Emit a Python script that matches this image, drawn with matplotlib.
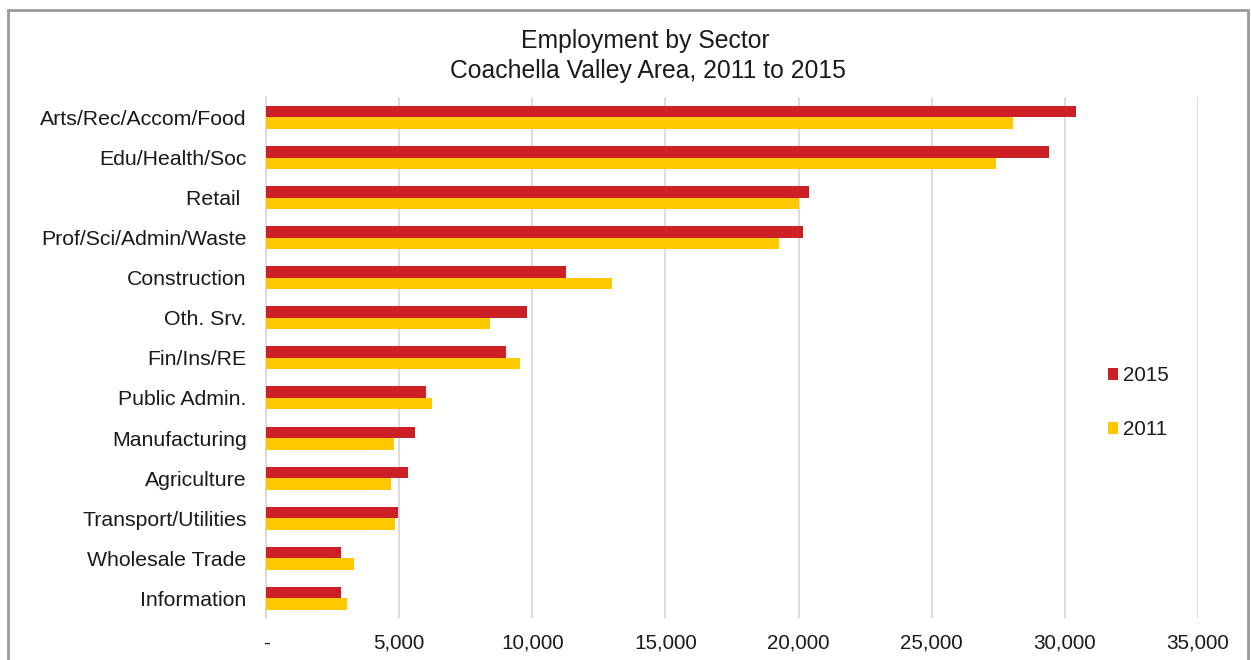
import matplotlib
matplotlib.use("Agg")
import matplotlib.pyplot as plt
import numpy as np
from matplotlib.patches import Rectangle
from matplotlib.ticker import FuncFormatter

plt.rcParams['font.family'] = ['Liberation Sans', 'DejaVu Sans']

sectors = ["Arts/Rec/Accom/Food", "Edu/Health/Soc", "Retail ", "Prof/Sci/Admin/Waste",
           "Construction", "Oth. Srv.", "Fin/Ins/RE", "Public Admin.", "Manufacturing",
           "Agriculture", "Transport/Utilities", "Wholesale Trade", "Information"]
emp_2015 = [30400, 29400, 20400, 20150, 11250, 9800, 9000, 6000, 5600, 5350, 4950, 2800, 2800]
emp_2011 = [28050, 27400, 20000, 19250, 13000, 8400, 9550, 6250, 4800, 4700, 4850, 3300, 3050]
x_ticks = [0, 5000, 10000, 15000, 20000, 25000, 30000, 35000]

RED = "#CC1F26"
YELLOW = "#FFC800"

W, H = 1251, 660
fig = plt.figure(figsize=(W / 100, H / 100), dpi=100)
fig.patch.set_facecolor("white")

# axes placed in pixel terms
left, right, top, bottom = 266, 1198, 97, 618
ax = fig.add_axes([left / W, 1 - bottom / H, (right - left) / W, (bottom - top) / H])

n = len(sectors)
y = np.arange(n)[::-1]
h = 0.287
ax.barh(y + h / 2, emp_2015, height=h, color=RED, label="2015", zorder=3)
ax.barh(y - h / 2, emp_2011, height=h, color=YELLOW, label="2011", zorder=3)

ax.set_xlim(0, 35000)
ax.set_ylim(-0.49, n - 0.49)
ax.set_yticks(y)
ax.set_yticklabels(sectors, fontsize=15.3, color="#1a1a1a")
ax.set_xticks(x_ticks)
ax.xaxis.set_major_formatter(FuncFormatter(lambda v, p: "-" if v == 0 else f"{int(v):,}"))
ax.tick_params(axis="x", length=0, pad=11, labelsize=14.9, labelcolor="#1a1a1a")
ax.tick_params(axis="y", length=0, pad=14)
ax.grid(axis="x", color="#d9d9d9", linewidth=1.3, zorder=0)
for s in ["top", "right", "bottom"]:
    ax.spines[s].set_visible(False)
ax.spines["left"].set_color("#d9d9d9")
ax.spines["left"].set_linewidth(1.3)

leg = fig.legend(loc="upper left", bbox_to_anchor=(1089 / W, 1 - 348 / H), frameon=False,
                 fontsize=14.8, handlelength=0.5, handleheight=0.5, handletextpad=0.25,
                 labelspacing=1.7)
for t in leg.get_texts():
    t.set_color("#1a1a1a")

fig.text(645 / W, 1 - 41 / H, "Employment by Sector", ha="center", va="center",
         fontsize=17.8, color="#1a1a1a")
fig.text(648 / W, 1 - 71 / H, "Coachella Valley Area, 2011 to 2015", ha="center",
         va="center", fontsize=17.8, color="#1a1a1a")

# outer frame
fig.patches.append(Rectangle((8 / W, -0.05), (1248 - 8) / W, 1 - 10 / H + 0.05,
                             transform=fig.transFigure, fill=False,
                             edgecolor="#9a9a9a", linewidth=2))

fig.savefig("out.png", dpi=100)
